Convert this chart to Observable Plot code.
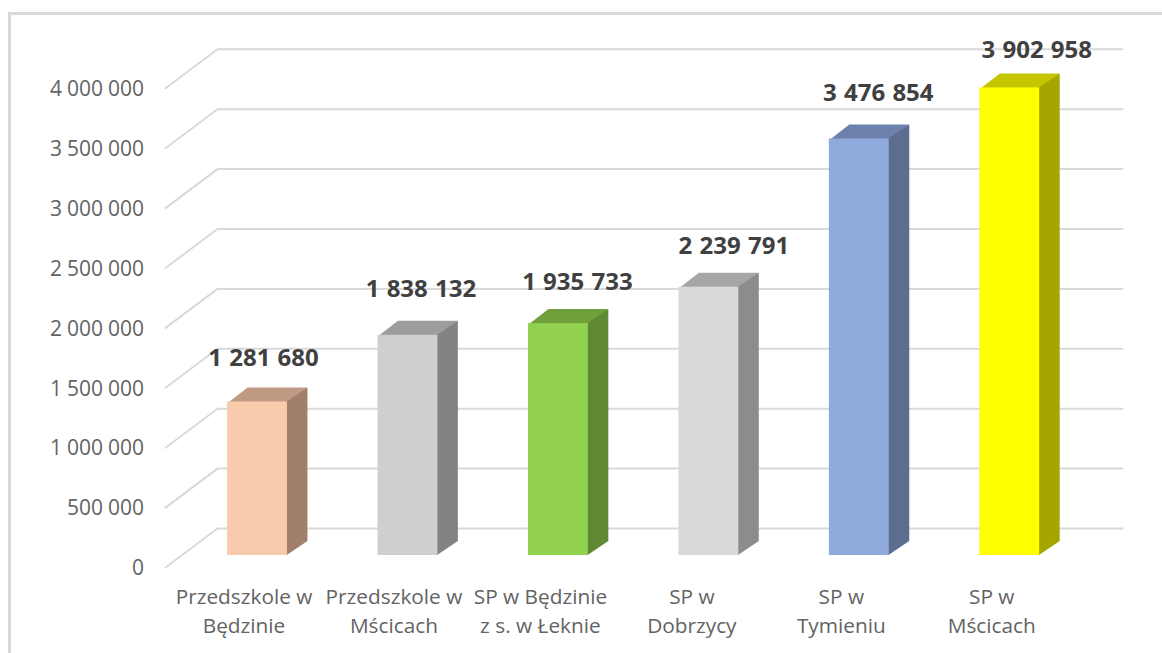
<!DOCTYPE html>
<html><head><meta charset="utf-8">
<script src="https://cdn.jsdelivr.net/npm/d3@7"></script>
<script src="https://cdn.jsdelivr.net/npm/@observablehq/plot@0.6"></script>
<style>
html,body{margin:0;padding:0;background:#fff;overflow:hidden}
#wrap{position:relative;width:1162px;height:653px}
#frame{position:absolute;left:8px;top:12px;right:0;bottom:0;border-left:3px solid #d9d9d9;border-top:3px solid #d9d9d9}
#wrap svg{position:absolute;left:0;top:0;background:transparent}
#wrap svg g[font-size="21"]{word-spacing:-0.5px}
#wrap svg g[font-weight="700"]{word-spacing:1px}
</style></head><body>
<div id="wrap"><div id="frame"></div></div>
<script>
const categories = ["Przedszkole w\nBędzinie","Przedszkole w\nMścicach","SP w Będzinie\nz s. w Łeknie","SP w\nDobrzycy","SP w\nTymieniu","SP w\nMścicach"];
const values = [1281680,1838132,1935733,2239791,3476854,3902958];
const ticks = [0,500000,1000000,1500000,2000000,2500000,3000000,3500000,4000000];
const frontColors = ["#f8cbad","#d0cece","#92d050","#d9d9d9","#8faadc","#ffff00"];
const sideColors  = ["#a17f6b","#848282","#5f8a33","#8c8c8c","#5c6d90","#a5a500"];
const topColors   = ["#bf9b84","#9e9c9c","#70a03c","#a6a6a6","#6c82ad","#c6c600"];
const labelDx = [6,13,19,25,19,27];
const labelDy = [-44,-46,-41,-41,-46,-38];
const categoryDx = [-13.5,-14,-18,-17,-18,-18];

const W=1162,H=653, slot=150.45, x0=257, y0=555, perUnit=119.8e-6;
const half=0.199, depthX=20/slot, depthY=14.5/perUnit;
const wallL=-40/slot, wallR=865/slot, wallY=27/perUnit, floorL=-92/slot, floorY=-12/perUnit;
const categoryY=-445000, seam=0.01;
const fmt=d3.formatLocale({thousands:" ",grouping:[3],decimal:","}).format(",d");
const idx=d3.range(values.length);

const grid=ticks.flatMap(t=>[
  {t,x:floorL,y:t+floorY},{t,x:wallL,y:t+wallY},{t,x:wallR,y:t+wallY}]);
const tops=idx.flatMap(i=>{const v=values[i];return [
  {i,x:i-half,y:v-8000},{i,x:i+half,y:v-8000},{i,x:i+half+depthX,y:v+depthY},{i,x:i-half+depthX,y:v+depthY}];});
const sides=idx.flatMap(i=>{const v=values[i];return [
  {i,x:i+half-seam,y:0},{i,x:i+half+depthX,y:depthY},{i,x:i+half+depthX,y:v+depthY},{i,x:i+half-seam,y:v}];});

const textFont='"Open Sans",sans-serif';
const chart=Plot.plot({
  width:W,height:H,margin:0,
  x:{type:"linear",domain:[-x0/slot,(W-x0)/slot],range:[0,W],axis:null},
  y:{type:"linear",domain:[(y0-H)/perUnit,y0/perUnit],range:[H,0],axis:null},
  style:{background:"transparent"},
  marks:[
    Plot.line(grid,{x:"x",y:"y",z:"t",stroke:"#d9d9d9",strokeWidth:2,curve:"linear"}),
    ...idx.map(i=>Plot.line(tops.filter(d=>d.i===i),{x:"x",y:"y",fill:topColors[i],stroke:"none"})),
    ...idx.map(i=>Plot.line(sides.filter(d=>d.i===i),{x:"x",y:"y",fill:sideColors[i],stroke:"none"})),
    Plot.rect(idx,{x1:i=>i-half,x2:i=>i+half,y1:0,y2:i=>values[i],fill:i=>frontColors[i],inset:0}),
    Plot.text(ticks,{x:floorL,y:t=>t+floorY,text:t=>fmt(t),textAnchor:"end",dx:-21.5,dy:1,fill:"#636363",fontSize:21,fontFamily:textFont}),
    ...idx.map(i=>Plot.text([i],{x:i,y:categoryY,text:d=>categories[d],textAnchor:"middle",lineHeight:1.41,dx:categoryDx[i],fill:"#636363",fontSize:20.8,fontFamily:textFont})),
    ...idx.map(i=>Plot.text([i],{x:i,y:values[i],text:d=>fmt(values[d]),dx:labelDx[i],dy:labelDy[i],fill:"#404040",fontSize:24,fontWeight:700,fontFamily:textFont}))
  ]
});
document.getElementById("wrap").appendChild(chart);
</script></body></html>
